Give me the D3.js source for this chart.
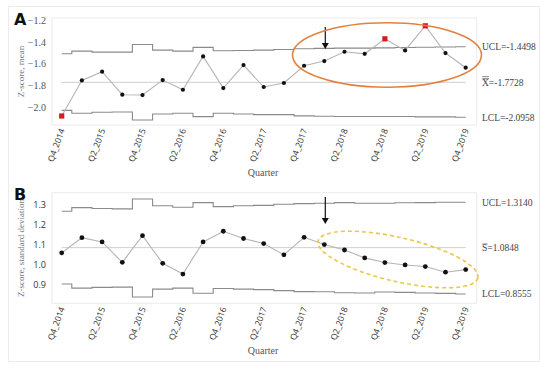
<!DOCTYPE html>
<html><head><meta charset="utf-8">
<script src="https://cdn.jsdelivr.net/npm/d3@7"></script>
<style>body{margin:0;background:#fff}svg{display:block}</style>
</head><body>
<script>
const quarters = ["Q4_2014","Q1_2015","Q2_2015","Q3_2015","Q4_2015","Q1_2016","Q2_2016","Q3_2016","Q4_2016","Q1_2017","Q2_2017","Q3_2017","Q4_2017","Q1_2018","Q2_2018","Q3_2018","Q4_2018","Q1_2019","Q2_2019","Q3_2019","Q4_2019"];
const tickQuarters = ["Q4_2014","Q2_2015","Q4_2015","Q2_2016","Q4_2016","Q2_2017","Q4_2017","Q2_2018","Q4_2018","Q2_2019","Q4_2019"];

const meanValues = [-2.083,-1.755,-1.675,-1.887,-1.89,-1.752,-1.841,-1.534,-1.826,-1.614,-1.816,-1.779,-1.62,-1.577,-1.491,-1.51,-1.372,-1.479,-1.252,-1.503,-1.638];
const meanUCL = [-1.51,-1.485,-1.494,-1.494,-1.424,-1.476,-1.485,-1.451,-1.482,-1.48,-1.476,-1.47,-1.463,-1.46,-1.458,-1.458,-1.455,-1.452,-1.45,-1.447,-1.445];
const meanLCL = [-2.031,-2.058,-2.049,-2.046,-2.12,-2.064,-2.058,-2.089,-2.058,-2.064,-2.07,-2.07,-2.082,-2.085,-2.088,-2.088,-2.088,-2.088,-2.091,-2.091,-2.095];
const meanCenter = -1.7728;
const meanTicks = [-1.2,-1.4,-1.6,-1.8,-2.0];

const sdValues = [1.059,1.134,1.113,1.012,1.144,1.007,0.954,1.113,1.166,1.13,1.105,1.049,1.136,1.1,1.073,1.034,1.011,0.999,0.991,0.963,0.976];
const sdUCL = [1.265,1.283,1.279,1.277,1.326,1.292,1.285,1.308,1.288,1.292,1.294,1.3,1.303,1.305,1.308,1.305,1.305,1.307,1.308,1.31,1.31];
const sdLCL = [0.905,0.884,0.888,0.889,0.84,0.879,0.884,0.859,0.882,0.879,0.877,0.872,0.867,0.866,0.861,0.86,0.865,0.863,0.86,0.858,0.855];
const sdCenter = 1.0848;
const sdTicks = [1.3,1.2,1.1,1.0,0.9];

const W = 550, H = 371;
const svg = d3.select("body").append("svg").attr("width", W).attr("height", H);
const SERIF = "'Liberation Serif','DejaVu Serif',serif";
const SANS = "'Open Sans','Noto Sans',sans-serif";

// outer frame
svg.append("rect").attr("x", 8.5).attr("y", 6.5).attr("width", 531).attr("height", 355)
  .attr("fill", "none").attr("stroke", "#ececec");

const x = d3.scalePoint().domain(quarters).range([61.7, 465.7]);

function panel(cfg) {
  const g = svg.append("g");
  const y = d3.scaleLinear().domain(cfg.domain).range([cfg.bottom, cfg.top]);
  g.append("rect").attr("x", 52).attr("y", cfg.top).attr("width", 424.7).attr("height", cfg.bottom - cfg.top)
    .attr("fill", "#fff").attr("stroke", "#ebebeb");

  // panel letter
  g.append("text").attr("x", 14).attr("y", cfg.top + 7).attr("font-family", "'DejaVu Sans',sans-serif")
    .attr("font-weight", "bold").attr("font-size", 16).attr("fill", "#111").text(cfg.letter);

  // y axis ticks
  const ya = d3.axisLeft(y).tickValues(cfg.ticks).tickSize(0).tickPadding(4)
    .tickFormat(cfg.tickFmt);
  const yg = g.append("g").attr("transform", "translate(50,0)").call(ya);
  yg.select(".domain").remove();
  yg.selectAll("text").attr("font-family", cfg.tickFont).attr("font-size", cfg.tickSize).attr("fill", cfg.tickColor);

  // y title
  g.append("text").attr("transform", `translate(24,${(cfg.top + cfg.bottom) / 2}) rotate(-90)`)
    .attr("text-anchor", "middle").attr("font-family", SERIF).attr("font-size", 9).attr("fill", "#777")
    .text(cfg.ytitle);

  // x axis ticks
  const xa = d3.axisBottom(x).tickValues(tickQuarters).tickSize(0).tickPadding(0);
  const xg = g.append("g").attr("transform", `translate(0,${cfg.bottom + 4})`).call(xa);
  xg.select(".domain").remove();
  xg.selectAll("text").attr("font-family", SANS).attr("font-size", 8.5).attr("fill", "#333")
    .attr("text-anchor", "end").attr("dy", "0.35em").attr("dx", 0)
    .attr("transform", "rotate(-70)").attr("y", 0).attr("x", 0);
  g.append("text").attr("x", 263).attr("y", cfg.bottom + 51).attr("text-anchor", "middle")
    .attr("font-family", SERIF).attr("font-size", 10).attr("fill", "#555").text("Quarter");

  // center line
  g.append("line").attr("x1", 61.7).attr("x2", 465.7).attr("y1", y(cfg.center)).attr("y2", y(cfg.center))
    .attr("stroke", "#cfcfcf").attr("stroke-width", 1);

  // limits
  const stepLine = d3.line().x((d, i) => x(quarters[i])).y(d => y(d)).curve(d3.curveStep);
  [cfg.ucl, cfg.lcl].forEach(arr => {
    g.append("path").attr("d", stepLine(arr)).attr("fill", "none").attr("stroke", "#8a8a8a").attr("stroke-width", 1.1);
  });

  // data line
  const dl = d3.line().x((d, i) => x(quarters[i])).y(d => y(d));
  g.append("path").attr("d", dl(cfg.values)).attr("fill", "none").attr("stroke", "#b5b5b5").attr("stroke-width", 1.1);

  // points
  cfg.values.forEach((v, i) => {
    const out = v > cfg.ucl[i] || v < cfg.lcl[i];
    if (out) {
      g.append("rect").attr("x", x(quarters[i]) - 2.6).attr("y", y(v) - 2.6).attr("width", 5.2).attr("height", 5.2).attr("fill", "#d71920");
    } else {
      g.append("circle").attr("cx", x(quarters[i])).attr("cy", y(v)).attr("r", cfg.r).attr("fill", "#111");
    }
  });

  // right labels
  const lab = (val, txt) => g.append("text").attr("x", 482).attr("y", y(val)).attr("dy", "0.35em")
    .attr("font-family", SERIF).attr("font-size", 9.5).attr("fill", "#444").text(txt);
  lab(cfg.ucl[cfg.ucl.length - 1], cfg.uclText);
  const ct = lab(cfg.center, cfg.centerText);
  const bb = ct.node().getBBox();
  const cw = cfg.centerChar === "X" ? 7 : 5.5;
  const bars = cfg.centerChar === "X" ? [bb.y - 1, bb.y + 1] : [bb.y + 1];
  bars.forEach(by => g.append("line").attr("x1", 482.3).attr("x2", 482 + cw).attr("y1", by).attr("y2", by)
    .attr("stroke", "#555").attr("stroke-width", 0.7));
  lab(cfg.lcl[cfg.lcl.length - 1], cfg.lclText);

  // arrow
  const ax = x("Q1_2018") + 1;
  g.append("line").attr("x1", ax).attr("x2", ax).attr("y1", cfg.arrow[0]).attr("y2", cfg.arrow[1] - 5)
    .attr("stroke", "#111").attr("stroke-width", 1.2);
  g.append("path").attr("d", `M${ax - 3.5},${cfg.arrow[1] - 6} L${ax + 3.5},${cfg.arrow[1] - 6} L${ax},${cfg.arrow[1]} Z`).attr("fill", "#111");
  return {g, y};
}

const A = panel({letter: "A", top: 18, bottom: 125, domain: [-2.166, -1.18], ticks: meanTicks,
  tickFmt: d3.format(".1f"), tickFont: SERIF, tickSize: 10, tickColor: "#555",
  ytitle: "Z-score, mean", values: meanValues, ucl: meanUCL, lcl: meanLCL, center: meanCenter,
  uclText: "UCL=-1.4498", centerText: "X=-1.7728", centerChar: "X", lclText: "LCL=-2.0958",
  arrow: [27, 49], r: 2.1});
A.g.append("ellipse").attr("cx", 387).attr("cy", 55).attr("rx", 94.5).attr("ry", 32.3)
  .attr("fill", "none").attr("stroke", "#e2813f").attr("stroke-width", 1.6);

const B = panel({letter: "B", top: 192.7, bottom: 303.3, domain: [0.809, 1.357], ticks: sdTicks,
  tickFmt: d3.format(".1f"), tickFont: SANS, tickSize: 9, tickColor: "#333",
  ytitle: "Z-score, standard deviation", values: sdValues, ucl: sdUCL, lcl: sdLCL, center: sdCenter,
  uclText: "UCL=1.3140", centerText: "S=1.0848", centerChar: "S", lclText: "LCL=0.8555",
  arrow: [197, 224], r: 2.4});
B.g.append("ellipse").attr("cx", 0).attr("cy", 0).attr("rx", 82).attr("ry", 22)
  .attr("transform", "translate(398,259.5) rotate(13)")
  .attr("fill", "none").attr("stroke", "#e9c84a").attr("stroke-width", 1.6).attr("stroke-dasharray", "4,3");
</script>
</body></html>
